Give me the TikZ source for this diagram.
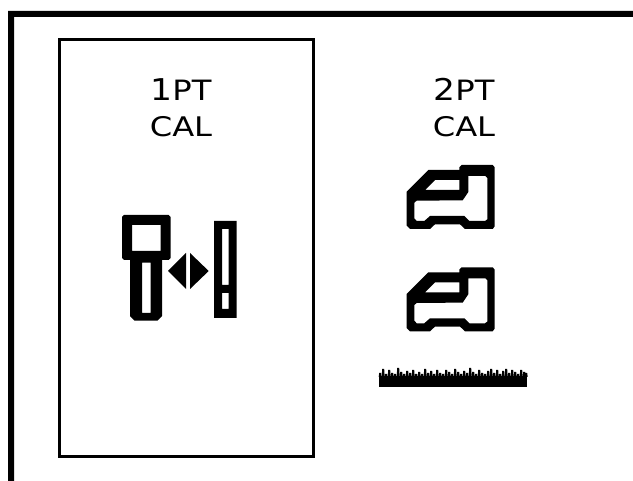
\documentclass[tikz,border=0pt]{standalone}
\usepackage{graphicx}
\usepackage{fontspec}
\setmainfont{DejaVu Sans}
\newcommand\bigtxt[1]{\scalebox{1.15}[1]{\fontsize{30}{30}\selectfont #1}}
\newcommand\smalltxt[1]{\scalebox{1.15}[1]{\fontsize{28}{28}\selectfont #1}}
\newcommand\caltxt[1]{\scalebox{1.19}[1]{\fontsize{27}{27}\selectfont #1}}
\begin{document}
\begin{tikzpicture}[x=1pt,y=-1pt,
  lbl/.style={inner sep=0pt,outer sep=0pt,anchor=base},
  vehicle/.pic={
    \fill[black,even odd rule]
      (406.7,191.7)--(428.3,170)--(459.3,170)--(459.3,167.3)--(461.7,165)--(492.7,165)--(494.7,167.3)--(494.7,226.3)--(492.7,229)--(465,229)--(460,224.3)--(435,224.3)--(430,229)--(410,229)--(406.7,225.7)--cycle
      (425,190)--(435,180)--(459.3,180)--(459.3,190)--cycle
      (416.7,200.7)--(462.7,200.3)--(468.3,192)--(468.3,176)--(485.3,176)--(487.3,178)--(487.3,219.3)--(485,221)--(469.3,221)--(464.3,216)--(430,216)--(424.3,221)--(416.7,221)--(414.3,218.3)--(414.3,202.7)--cycle;
  }]
\useasboundingbox (0,0) rectangle (633,481);
\fill[white] (0,0) rectangle (633,481);
% outer frame
\fill[black] (8,481)--(8,11)--(633,11)--(633,17)--(14,17)--(14,481)--cycle;
% selected panel
\draw[line width=3pt] (59.5,39.5) rectangle (313,457);
% labels
\node[lbl] (a1) at (181,101) {\bigtxt{1}\smalltxt{PT}};
\node[lbl] (a2) at (181,137) {\caltxt{CAL}};
\node[lbl] (b1) at (464,101) {\bigtxt{2}\smalltxt{PT}};
\node[lbl] (b2) at (464,137) {\caltxt{CAL}};
% probe
\fill[black,even odd rule]
  (124,215)--(168.6,215)--(170.6,217)--(170.6,258)--(168.6,260)--(162,260)--(162,316)--(157.5,320.6)--(134.5,320.6)--(130,316)--(130,260)--(124,260)--(122,258)--(122,217)--cycle
  (132,225) rectangle (160.7,251)
  (142,262.7) rectangle (150.7,313);
% double arrow
\fill[black] (168,271)--(186,253)--(186,289)--cycle;
\fill[black] (208.7,271)--(190,253)--(190,289)--cycle;
% target bar
\fill[black,even odd rule]
  (214,221) rectangle (236.7,318)
  (222,229) rectangle (228.7,285)
  (222,293) rectangle (228.7,309);
% vehicles
\pic at (0,0) {vehicle};
\pic at (0,102.3) {vehicle};
% ground
\fill[black] (378.7,376) rectangle (527,387.5);
\foreach \i/\h in {0/373,3/369,6/374,9/370,12/373,15/374,18/368,21/372,24/374,27/371,30/373,33/370,36/374,39/372,42/374,45/369,48/373,51/371,54/374,57/370,60/373,63/374,66/370,69/372,72/374,75/369,78/372,81/374,84/371,87/373,90/368,93/372,96/374,99/370,102/373,105/374,108/371,111/369,114/373,117/370,120/374,123/371,126/369,129/373,132/370,135/372,138/374,141/370,144/372,146/373}
  \fill[black] (378.7+\i,377) -- (379.2+\i,\h) -- (381.2+\i,\h) -- (381.7+\i,377) -- cycle;
\end{tikzpicture}
\end{document}
